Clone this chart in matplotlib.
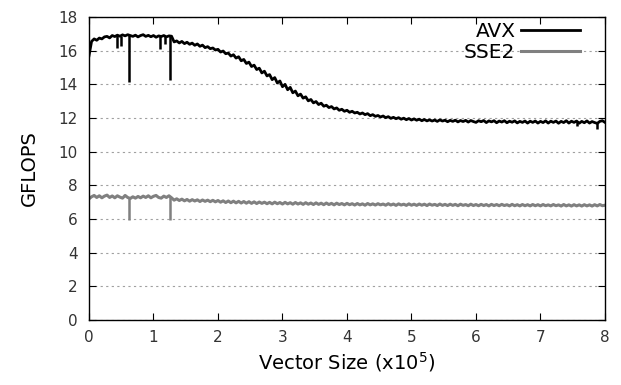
import numpy as np
import matplotlib
matplotlib.use('Agg')
import matplotlib.pyplot as plt

# vector size in units of 1e5, sampled every 0.04
sizes = np.linspace(0, 8, 201)

avx = [15.70, 16.55, 16.70, 16.62, 16.75, 16.70, 16.82, 16.85, 16.76, 16.90,
       16.84, 16.92, 16.86, 16.94, 16.88, 16.95, 16.90, 16.85, 16.92, 16.82,
       16.90, 16.95, 16.85, 16.91, 16.83, 16.90, 16.80, 16.88, 16.84, 16.90,
       16.82, 16.88, 16.86, 16.52, 16.58, 16.46, 16.55, 16.42, 16.50, 16.38,
       16.45, 16.32, 16.40, 16.26, 16.33, 16.18, 16.24, 16.12, 16.16, 16.04,
       16.08, 15.92, 15.98, 15.82, 15.86, 15.68, 15.76, 15.56, 15.64, 15.40,
       15.48, 15.24, 15.32, 15.06, 15.14, 14.88, 14.96, 14.68, 14.78, 14.50,
       14.58, 14.28, 14.40, 14.08, 14.20, 13.86, 14.00, 13.68, 13.82, 13.50,
       13.60, 13.32, 13.42, 13.18, 13.26, 13.02, 13.10, 12.90, 12.98, 12.80,
       12.88, 12.70, 12.76, 12.62, 12.68, 12.54, 12.60, 12.46, 12.52, 12.40,
       12.46, 12.34, 12.40, 12.30, 12.34, 12.24, 12.30, 12.20, 12.26, 12.14,
       12.20, 12.10, 12.15, 12.06, 12.12, 12.02, 12.08, 11.98, 12.04, 11.96,
       12.02, 11.93, 11.99, 11.90, 11.97, 11.88, 11.95, 11.87, 11.93, 11.84,
       11.91, 11.83, 11.89, 11.82, 11.88, 11.80, 11.89, 11.82, 11.87, 11.78,
       11.86, 11.80, 11.87, 11.77, 11.85, 11.79, 11.86, 11.76, 11.85, 11.79,
       11.74, 11.84, 11.78, 11.85, 11.73, 11.83, 11.77, 11.84, 11.72, 11.82,
       11.76, 11.84, 11.72, 11.81, 11.75, 11.83, 11.71, 11.80, 11.74, 11.82,
       11.70, 11.81, 11.74, 11.82, 11.70, 11.80, 11.73, 11.83, 11.70, 11.81,
       11.74, 11.82, 11.69, 11.80, 11.73, 11.84, 11.70, 11.81, 11.74, 11.82,
       11.69, 11.80, 11.72, 11.83, 11.70, 11.79, 11.73, 11.68, 11.80, 11.84,
       11.74]

sse2 = [7.20, 7.32, 7.40, 7.28, 7.38, 7.26, 7.36, 7.42, 7.28, 7.37,
        7.26, 7.38, 7.30, 7.24, 7.40, 7.28, 7.22, 7.32, 7.24, 7.34,
        7.26, 7.36, 7.28, 7.38, 7.26, 7.35, 7.40, 7.28, 7.24, 7.36,
        7.28, 7.38, 7.26, 7.12, 7.20, 7.10, 7.18, 7.08, 7.16, 7.06,
        7.15, 7.07, 7.14, 7.04, 7.13, 7.05, 7.12, 7.03, 7.11, 7.02,
        7.10, 7.00, 7.08, 6.98, 7.07, 6.97, 7.06, 6.96, 7.05, 6.95,
        7.04, 6.94, 7.03, 6.93, 7.02, 6.92, 7.01, 6.93, 7.00, 6.91,
        6.99, 6.90, 7.00, 6.91, 6.98, 6.89, 6.99, 6.90, 6.97, 6.88,
        6.98, 6.89, 6.96, 6.87, 6.97, 6.88, 6.95, 6.86, 6.96, 6.87,
        6.94, 6.85, 6.95, 6.86, 6.93, 6.84, 6.94, 6.86, 6.92, 6.84,
        6.93, 6.85, 6.91, 6.83, 6.92, 6.84, 6.90, 6.82, 6.92, 6.84,
        6.90, 6.83, 6.91, 6.84, 6.89, 6.82, 6.91, 6.83, 6.89, 6.81,
        6.90, 6.83, 6.88, 6.81, 6.90, 6.82, 6.88, 6.81, 6.89, 6.82,
        6.88, 6.80, 6.89, 6.82, 6.87, 6.80, 6.89, 6.81, 6.87, 6.80,
        6.88, 6.81, 6.87, 6.79, 6.88, 6.81, 6.86, 6.79, 6.88, 6.80,
        6.86, 6.79, 6.87, 6.80, 6.86, 6.78, 6.87, 6.80, 6.86, 6.79,
        6.87, 6.80, 6.85, 6.78, 6.87, 6.79, 6.85, 6.78, 6.86, 6.79,
        6.85, 6.78, 6.86, 6.79, 6.85, 6.78, 6.86, 6.79, 6.84, 6.78,
        6.86, 6.79, 6.84, 6.77, 6.86, 6.78, 6.84, 6.77, 6.85, 6.78,
        6.84, 6.77, 6.85, 6.78, 6.84, 6.77, 6.85, 6.78, 6.86, 6.79,
        6.82]

# single-sample drops
avx_dip_x = [0.44, 0.50, 0.62, 1.10, 1.18, 1.26, 7.56, 7.88]
avx_dip_y = [16.15, 16.30, 14.15, 16.10, 16.40, 14.28, 11.55, 11.35]
sse2_dip_x = [0.62, 1.26]
sse2_dip_y = [5.92, 5.92]

yticks = list(range(0, 19, 2))
xticks = list(range(0, 9))

plt.rcParams['font.family'] = 'DejaVu Sans'

fig = plt.figure(figsize=(6.21, 3.85), dpi=100)
ax = fig.add_axes([0.1433, 0.1688, 0.8309, 0.787])

ax.plot(sizes, avx, color='black', lw=2.0, label='AVX')
ax.plot(sizes, sse2, color='#808080', lw=2.2, label='SSE2')
ax.vlines(avx_dip_x, avx_dip_y, np.interp(avx_dip_x, sizes, avx), color='black', lw=1.8)
ax.vlines(sse2_dip_x, sse2_dip_y, np.interp(sse2_dip_x, sizes, sse2), color='#808080', lw=1.8)

ax.set_xlim(0, 8)
ax.set_ylim(0, 18)
ax.set_xticks(xticks)
ax.set_yticks(yticks)
ax.yaxis.grid(True, color='#a0a0a0', linestyle=(0, (2, 3)), lw=0.8)
ax.set_axisbelow(True)

ax.tick_params(direction='in', length=5, width=0.8, top=True, right=True,
               labelsize=11, colors='black', labelcolor='#333333')
ax.tick_params(axis='y', pad=8)
ax.tick_params(axis='x', pad=7)
for s in ax.spines.values():
    s.set_linewidth(1)

ax.set_xlabel(r'Vector Size (x10$^{5}$)', fontsize=14, labelpad=4)
ax.set_ylabel('GFLOPS', fontsize=14, labelpad=14)

ax.legend(loc='upper right', frameon=False, markerfirst=False, fontsize=14.5,
          handlelength=2.9, handletextpad=0.3, labelspacing=0.12,
          borderaxespad=0.0, bbox_to_anchor=(0.967, 1.01))

fig.savefig('out.png', dpi=100)
